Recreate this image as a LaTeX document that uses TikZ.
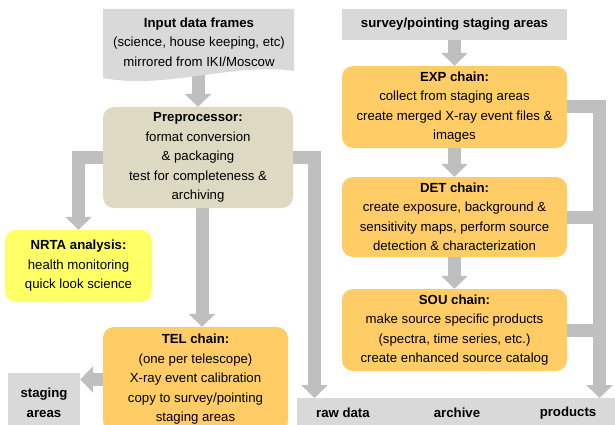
\documentclass[tikz,border=0pt]{standalone}
\usepackage{fontspec}
\setmainfont{Liberation Sans}
\usetikzlibrary{arrows.meta,calc}
\definecolor{arrg}{HTML}{BFBFBF}
\definecolor{boxg}{HTML}{D9D9D9}
\definecolor{beige}{HTML}{DDD9C3}
\definecolor{yel}{HTML}{FFFF66}
\definecolor{org}{HTML}{FFCC66}
\begin{document}
\begin{tikzpicture}[x=1pt,y=-1pt,
  txt/.style={align=center, inner sep=0pt, font=\fontsize{13.2}{19.5}\selectfont},
  box/.style={txt, rounded corners=11pt},
  grbox/.style={txt, fill=boxg},
  arr/.style={draw=arrg, line width=13pt, -{Triangle[width=26pt,length=13pt]}, line join=miter},
  bar/.style={draw=arrg, line width=13pt}]
\useasboundingbox (0,0) rectangle (615,425);

% boxes
\node[box, fill=beige, minimum width=190pt, minimum height=101pt] (pre) at (198,157.5)
  {\textbf{Preprocessor:}\\format conversion\\\& packaging\\test for completeness \&\\archiving};
\node[box, fill=yel, minimum width=147pt, minimum height=72pt] (nrta) at (78.5,266)
  {\textbf{NRTA analysis:}\\health monitoring\\quick look science};
\node[box, fill=org, minimum width=185pt, minimum height=105pt] (tel) at (195.5,379.5)
  {\textbf{TEL chain:}\\(one per telescope)\\X-ray event calibration\\copy to survey/pointing\\staging areas};
\node[grbox, minimum width=72pt, minimum height=60pt] (stg) at (44,403)
  {\textbf{staging}\\\textbf{areas}};
\node[grbox, minimum width=225pt, minimum height=31pt] (svy) at (454.5,24.5)
  {\textbf{survey/pointing staging areas}};
\node[box, fill=org, minimum width=225pt, minimum height=82pt] (exp) at (454.5,107)
  {\textbf{EXP chain:}\\collect from staging areas\\create merged X-ray event files \&\\images};
\node[box, fill=org, minimum width=225pt, minimum height=80pt] (det) at (454.5,217)
  {\textbf{DET chain:}\\create exposure, background \&\\sensitivity maps, perform source\\detection \& characterization};
\node[box, fill=org, minimum width=225pt, minimum height=82pt] (sou) at (454.5,330)
  {\textbf{SOU chain:}\\make source specific products\\(spectra, time series, etc.)\\create enhanced source catalog};
\node[grbox, minimum width=323pt, minimum height=34pt, anchor=north west] (band) at (297,398) {};
\node[txt] (raw) at (343,413) {\textbf{raw data}};
\node[txt] (arc) at (457,413) {\textbf{archive}};
\node[txt] (prd) at (568,413) {\textbf{products}};

% connectors
\coordinate (inpb) at (198,70);
\coordinate (rawin) at (314.5,398);
\coordinate (prdin) at (599.5,398);
\coordinate (telx) at (202,0);
\draw[arr] (inpb) -- (pre.north);
\draw[arr] (pre.west) -| (nrta.north);
\draw[arr] (pre.east) -| (rawin);
\draw[arr] (pre.south -| telx) -- (tel.north -| telx);
\draw[arr] (tel.west) -- (tel.west -| stg.east);
\draw[arr] (svy.south) -- (exp.north);
\draw[arr] (exp.south) -- (det.north);
\draw[arr] (det.south) -- (sou.north);
\draw[arr] (exp.east) -| (prdin);
\draw[bar] (det.east) -- (det.east -| prdin);
\draw[bar] (sou.east) -- (sou.east -| prdin);

% input document shape
\fill[boxg] (103,9) -- (294,9) -- (294,71) .. controls (235,62) and (165,90) .. (103,78) -- cycle;
\node[txt] (inp) at (199,42)
  {\textbf{Input data frames}\\(science, house keeping, etc)\\mirrored from IKI/Moscow};
\end{tikzpicture}
\end{document}
